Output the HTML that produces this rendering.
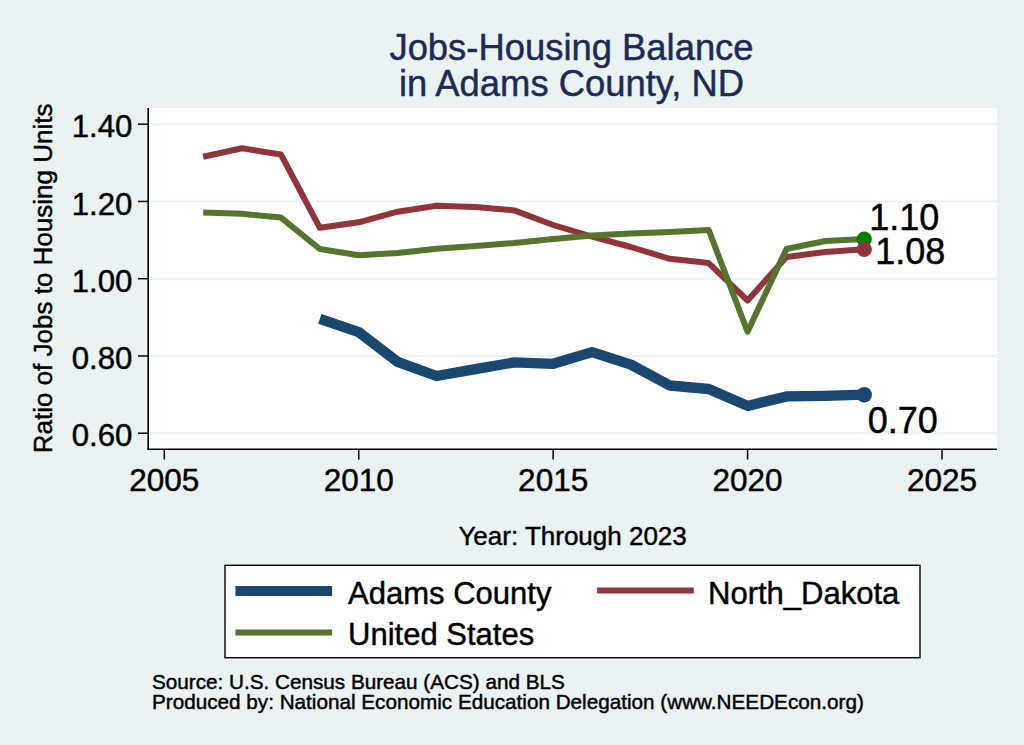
<!DOCTYPE html>
<html><head><meta charset="utf-8"><title>Jobs-Housing Balance in Adams County, ND</title>
<style>
html,body{margin:0;padding:0;background:#eaf2f3;}
body{width:1024px;height:745px;overflow:hidden;}
svg{display:block;}
text{font-family:'Liberation Sans', Arial, Helvetica, sans-serif;stroke-linejoin:round;}
.t{stroke:#000;stroke-width:0.45px;}
.tt{stroke:#1c2b56;stroke-width:0.45px;}
</style></head><body>
<svg width="1024" height="745" viewBox="0 0 1024 745">
<rect x="0" y="0" width="1024" height="745" fill="#eaf2f3"/>
<!-- plot region -->
<rect x="148" y="108" width="849" height="341.3" fill="#ffffff"/>

<line x1="149" y1="124.2" x2="997" y2="124.2" stroke="#eaf2f3" stroke-width="2"/>
<line x1="149" y1="201.45" x2="997" y2="201.45" stroke="#eaf2f3" stroke-width="2"/>
<line x1="149" y1="278.7" x2="997" y2="278.7" stroke="#eaf2f3" stroke-width="2"/>
<line x1="149" y1="355.95" x2="997" y2="355.95" stroke="#eaf2f3" stroke-width="2"/>
<line x1="149" y1="433.2" x2="997" y2="433.2" stroke="#eaf2f3" stroke-width="2"/>
<line x1="148.2" y1="108" x2="148.2" y2="450.1" stroke="#000" stroke-width="1.6"/>
<line x1="147.4" y1="449.3" x2="997" y2="449.3" stroke="#000" stroke-width="1.6"/>
<line x1="138" y1="124.2" x2="148" y2="124.2" stroke="#000" stroke-width="1.5"/>
<text class="t" x="132.4" y="137.30" font-size="31.2" text-anchor="end">1.40</text>
<line x1="138" y1="201.45" x2="148" y2="201.45" stroke="#000" stroke-width="1.5"/>
<text class="t" x="132.4" y="214.55" font-size="31.2" text-anchor="end">1.20</text>
<line x1="138" y1="278.7" x2="148" y2="278.7" stroke="#000" stroke-width="1.5"/>
<text class="t" x="132.4" y="291.80" font-size="31.2" text-anchor="end">1.00</text>
<line x1="138" y1="355.95" x2="148" y2="355.95" stroke="#000" stroke-width="1.5"/>
<text class="t" x="132.4" y="369.05" font-size="31.2" text-anchor="end">0.80</text>
<line x1="138" y1="433.2" x2="148" y2="433.2" stroke="#000" stroke-width="1.5"/>
<text class="t" x="132.4" y="446.30" font-size="31.2" text-anchor="end">0.60</text>
<line x1="164.30" y1="449" x2="164.30" y2="459.6" stroke="#000" stroke-width="1.5"/>
<text class="t" x="164.30" y="490.6" font-size="31.5" text-anchor="middle">2005</text>
<line x1="358.73" y1="449" x2="358.73" y2="459.6" stroke="#000" stroke-width="1.5"/>
<text class="t" x="358.73" y="490.6" font-size="31.5" text-anchor="middle">2010</text>
<line x1="553.15" y1="449" x2="553.15" y2="459.6" stroke="#000" stroke-width="1.5"/>
<text class="t" x="553.15" y="490.6" font-size="31.5" text-anchor="middle">2015</text>
<line x1="747.58" y1="449" x2="747.58" y2="459.6" stroke="#000" stroke-width="1.5"/>
<text class="t" x="747.58" y="490.6" font-size="31.5" text-anchor="middle">2020</text>
<line x1="942.00" y1="449" x2="942.00" y2="459.6" stroke="#000" stroke-width="1.5"/>
<text class="t" x="942.00" y="490.6" font-size="31.5" text-anchor="middle">2025</text>
<polyline points="203.19,156.70 242.07,148.30 280.96,154.50 319.84,227.80 358.73,222.30 397.61,211.70 436.50,205.70 475.38,207.00 514.26,210.40 553.15,225.00 592.03,236.60 630.92,247.00 669.81,258.80 708.69,263.10 747.58,300.50 786.46,257.00 825.35,252.00 864.23,249.30" fill="none" stroke="#90353b" stroke-width="6" stroke-linejoin="round" stroke-linecap="butt"/>
<polyline points="203.19,212.50 242.07,213.80 280.96,217.60 319.84,249.00 358.73,255.30 397.61,253.10 436.50,248.70 475.38,246.00 514.26,242.90 553.15,238.90 592.03,235.40 630.92,233.60 669.81,232.00 708.69,230.00 747.58,331.70 786.46,249.00 825.35,241.00 864.23,239.00" fill="none" stroke="#55752f" stroke-width="6" stroke-linejoin="round" stroke-linecap="butt"/>
<polyline points="319.84,318.80 358.73,332.20 397.61,361.90 436.50,376.00 475.38,369.10 514.26,362.40 553.15,363.80 592.03,352.10 630.92,364.60 669.81,385.50 708.69,389.00 747.58,405.90 786.46,396.40 825.35,395.90 864.23,394.70" fill="none" stroke="#1a476f" stroke-width="10.3" stroke-linejoin="round" stroke-linecap="butt"/>
<circle cx="864.23" cy="239.1" r="7.7" fill="#008000"/>
<circle cx="864.23" cy="249.4" r="7.7" fill="#90353b"/>
<circle cx="864.23" cy="394.7" r="7.7" fill="#1a476f"/>
<text class="t" x="869.3" y="229.7" font-size="36">1.10</text>
<text class="t" x="875.2" y="263.5" font-size="36">1.08</text>
<text class="t" x="867.8" y="433" font-size="36">0.70</text>
<text class="tt" x="571.5" y="59.8" font-size="36.4" fill="#1c2b56" text-anchor="middle">Jobs-Housing Balance</text>
<text class="tt" x="571.5" y="95.5" font-size="36.4" fill="#1c2b56" text-anchor="middle">in Adams County, ND</text>
<text class="t" transform="translate(51.7,278.4) rotate(-90)" x="0" y="0" font-size="26" text-anchor="middle">Ratio of Jobs to Housing Units</text>
<text class="t" x="572.6" y="544.8" font-size="26" text-anchor="middle">Year: Through 2023</text>
<rect x="225" y="565.3" width="695" height="92.4" fill="#fff" stroke="#000" stroke-width="1.4"/>
<line x1="235.4" y1="591" x2="332.1" y2="591" stroke="#1a476f" stroke-width="10"/>
<line x1="235.4" y1="632.5" x2="332.1" y2="632.5" stroke="#55752f" stroke-width="6"/>
<line x1="597.1" y1="590.5" x2="693.8" y2="590.5" stroke="#90353b" stroke-width="6"/>
<text class="t" x="348.1" y="603.7" font-size="31">Adams County</text>
<text class="t" x="348.1" y="644.55" font-size="31">United States</text>
<text class="t" x="708" y="604" font-size="31">North_Dakota</text>
<text class="t" x="152" y="688.9" font-size="20.7">Source: U.S. Census Bureau (ACS) and BLS</text>
<text class="t" x="152" y="708.8" font-size="20.7">Produced by: National Economic Education Delegation (www.NEEDEcon.org)</text>
</svg>
</body></html>
